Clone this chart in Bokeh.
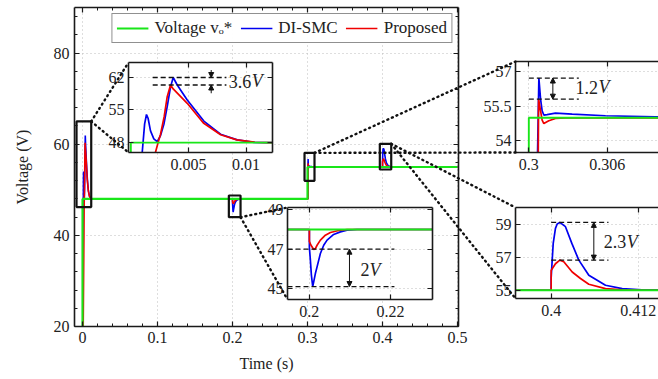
from bokeh.plotting import figure
from bokeh.models import (Range1d, FixedTicker, LinearAxis, Arrow, NormalHead,
                          Legend, LegendItem, PrintfTickFormatter, CustomJSTickFormatter)
from bokeh.embed import file_html
from bokeh.resources import INLINE
from bokeh.core.properties import value

FONT = "Liberation Serif"
C_REF = "#19e619"
C_DI = "#0000f0"
C_PR = "#f00000"

# ---------------- data ----------------
t_ref = [0.0, 0.0, 0.3, 0.3, 0.5]
v_ref = [0.0, 48.0, 48.0, 55.0, 55.0]

t_dismc = [0.0, 0.0009, 0.00099, 0.0012, 0.00136, 0.0015, 0.00171, 0.002, 0.00229,
           0.00258, 0.00287, 0.00316, 0.00345, 0.00368, 0.00403, 0.0049, 0.00634,
           0.00779, 0.00924, 0.0107, 0.012, 0.2,
           0.2, 0.20025, 0.2005, 0.20082, 0.20107, 0.20148, 0.2019, 0.20272, 0.20354,
           0.20437, 0.206, 0.20765, 0.2093, 0.21178, 0.3005,
           0.30077, 0.3009, 0.30102, 0.30115, 0.3014, 0.30204, 0.30332, 0.30587,
           0.3097, 0.315, 0.4,
           0.4, 0.40028, 0.40059, 0.40083, 0.40119, 0.40197, 0.40285, 0.40381,
           0.40519, 0.40749, 0.40979, 0.4125, 0.5]
v_dismc = [0.0, 40.0, 45.9, 52.0, 54.0, 53.2, 50.5, 48.8, 48.2,
           49.5, 51.9, 55.7, 59.9, 61.9, 60.3, 57.1, 52.6,
           49.8, 48.6, 48.06, 48.0, 48.0,
           47.1, 46.44, 45.68, 45.1, 45.34, 45.76, 46.1, 46.78, 47.2,
           47.46, 47.75, 47.88, 47.97, 48.0, 48.0,
           56.73, 55.81, 55.3, 55.12, 55.14, 55.2, 55.16, 55.09,
           55.04, 55.0, 55.0,
           55.77, 57.83, 58.74, 59.0, 59.1, 58.84, 57.83, 56.82,
           55.91, 55.3, 55.1, 55.03, 55.0]

t_prop = [0.0, 0.0019, 0.00215, 0.0024, 0.00258, 0.0029, 0.00316, 0.00345, 0.0037,
          0.0049, 0.0063, 0.0078, 0.0092, 0.0107, 0.012, 0.2,
          0.2, 0.2004, 0.20107, 0.20148, 0.2019, 0.20272, 0.20395, 0.20519, 0.20724,
          0.2093, 0.30066,
          0.30075, 0.3009, 0.30102, 0.30115, 0.30153, 0.30204, 0.30281, 0.4,
          0.4, 0.40014, 0.40059, 0.40119, 0.40174, 0.4029, 0.40404, 0.40519,
          0.40749, 0.40979, 0.4125, 0.5]
v_prop = [0.0, 40.0, 46.0, 48.3, 49.8, 53.6, 57.8, 60.3, 59.4,
          56.4, 52.2, 49.7, 48.6, 48.1, 48.0, 48.0,
          47.4, 47.2, 46.98, 47.03, 47.2, 47.46, 47.71, 47.85, 47.95,
          48.0, 48.0,
          55.8, 55.3, 54.9, 54.75, 54.87, 54.97, 55.0, 55.0,
          56.2, 56.3, 56.6, 56.82, 56.72, 56.1, 55.71, 55.36,
          55.1, 55.03, 55.0, 55.0]

legend_labels = ["Voltage vₒ*", "DI-SMC", "Proposed"]

main_xticks = [0, 0.1, 0.2, 0.3, 0.4, 0.5]
main_xminor = [round(0.02 * i, 2) for i in range(26)]
main_yticks = [20, 40, 60, 80]
main_yminor = list(range(20, 92, 4))

# zoom boxes on the main plot: (x0, x1, y0, y1)
boxes = [(-0.008, 0.0116, 46.2, 65.0),
         (0.1951, 0.2107, 43.98, 48.75),
         (0.296, 0.3093, 51.97, 58.1),
         (0.3964, 0.4116, 54.45, 60.09)]

# insets: x range, y range, x ticks, y ticks
insets = [
    dict(xr=(-0.0002, 0.0123), yr=(45.9, 65.1), xt=[0.005, 0.01], yt=[48, 55, 62]),
    dict(xr=(0.1946, 0.2304), yr=(44.44, 49.12), xt=[0.2, 0.22], yt=[45, 47, 49]),
    dict(xr=(0.29898, 0.30993), yr=(53.49, 57.45), xt=[0.3, 0.306], yt=[54, 55.5, 57]),
    dict(xr=(0.39508, 0.4148), yr=(54.5, 60.0), xt=[0.4, 0.412], yt=[55, 57, 59]),
]
# annotations: dashed levels, x extent, arrow x, label
ann = [
    dict(levels=[61.9, 60.3], xs=(0.0019, 0.0083), ax=0.00698, outside=True,
         lab=("3.6", 0.0085, 61.1)),
    dict(levels=[47.0, 45.1], xs=(0.1946, 0.221), ax=0.2099, outside=False,
         lab=("2", 0.2126, 45.95)),
    dict(levels=[56.73, 55.81], xs=(0.3, 0.30383), ax=0.30184, outside=False,
         lab=("1.2", 0.30357, 56.32)),
    dict(levels=[59.1, 56.82], xs=(0.4, 0.4079), ax=0.40588, outside=False,
         lab=("2.3", 0.40726, 57.93)),
]

# ---------------- layout constants (page px) ----------------
W, H = 658, 379
MX0, MX1, MY0, MY1 = 74, 458, 7, 326
main_x = (-0.0107, 0.5013)
main_y = (20, 90)
# frame left, top, width, height, has right border
inset_frames = [(128, 62, 144, 90, True), (287, 207, 145, 92, True),
                (515, 61, 143, 91, False), (515, 207, 143, 91, False)]


def blank():
    return CustomJSTickFormatter(code="return ''")


def style_axis(ax, ticks, minor=None, show=True, size="16px", standoff=5):
    ax.ticker = FixedTicker(ticks=ticks, minor_ticks=minor or [])
    ax.major_tick_in = 5
    ax.major_tick_out = 0
    ax.minor_tick_in = 3
    ax.minor_tick_out = 0
    ax.axis_line_color = "#1a1a1a"
    ax.axis_line_width = 1.6
    ax.major_tick_line_color = "#1a1a1a"
    ax.minor_tick_line_color = "#1a1a1a"
    ax.major_tick_line_width = 1.2
    ax.minor_tick_line_width = 1.0
    if show:
        ax.formatter = PrintfTickFormatter(format="%g")
        ax.major_label_text_font = FONT
        ax.major_label_text_font_size = size
        ax.major_label_text_color = "#222222"
        ax.major_label_standoff = standoff
    else:
        ax.formatter = blank()
        ax.major_label_text_font_size = "1px"
        ax.major_label_standoff = 0


# ---------------- main figure ----------------
main = figure(frame_width=MX1 - MX0, frame_height=MY1 - MY0,
              x_range=Range1d(*main_x), y_range=Range1d(*main_y),
              output_backend="svg", toolbar_location=None,
              min_border_left=MX0, min_border_right=W - MX1,
              min_border_top=MY0, min_border_bottom=H - MY1)
main.outline_line_color = None
main.border_fill_color = "white"
style_axis(main.xaxis[0], main_xticks, main_xminor)
style_axis(main.yaxis[0], main_yticks, main_yminor)
main.xaxis.axis_label = "Time (s)"
main.yaxis.axis_label = "Voltage (V)"
for ax in (main.xaxis[0], main.yaxis[0]):
    ax.axis_label_text_font = FONT
    ax.axis_label_text_font_size = "16px"
    ax.axis_label_text_font_style = "normal"
    ax.axis_label_text_color = "#222222"
main.xaxis.axis_label_standoff = 9
main.yaxis.axis_label_standoff = 20
top_ax = LinearAxis()
style_axis(top_ax, main_xticks, main_xminor, show=False)
main.add_layout(top_ax, "above")
right_ax = LinearAxis()
style_axis(right_ax, main_yticks, main_yminor, show=False)
main.add_layout(right_ax, "right")
main.grid.grid_line_color = "#bdbdbd"
main.grid.grid_line_dash = "1 3"
main.grid.grid_line_width = 1
main.xgrid.ticker = FixedTicker(ticks=main_xticks)
main.ygrid.ticker = FixedTicker(ticks=main_yticks)

r_di = main.line(t_dismc, v_dismc, color=C_DI, line_width=1.6)
r_pr = main.line(t_prop, v_prop, color=C_PR, line_width=1.6)
r_ref = main.line(t_ref, v_ref, color=C_REF, line_width=2.2)
main.quad(left=[b[0] for b in boxes], right=[b[1] for b in boxes],
          bottom=[b[2] for b in boxes], top=[b[3] for b in boxes],
          fill_alpha=0, line_color="#111111", line_width=2.2)

legend = Legend(items=[LegendItem(label=legend_labels[0], renderers=[r_ref]),
                       LegendItem(label=legend_labels[1], renderers=[r_di]),
                       LegendItem(label=legend_labels[2], renderers=[r_pr])],
                orientation="horizontal", location="top_right")
legend.label_text_font = FONT
legend.label_text_font_size = "17px"
legend.label_text_color = "#222222"
legend.glyph_width = 32
legend.glyph_height = 18
legend.label_standoff = 6
legend.spacing = 8
legend.padding = 4
legend.margin = 6
legend.border_line_color = "#222222"
legend.border_line_width = 1
main.add_layout(legend)
main.styles = {"position": "absolute", "left": "0px", "top": "0px"}

# ---------------- insets ----------------
roots = [main]
IL, IT, IB = 80, 6, 28
for k, (cfg, fr, an) in enumerate(zip(insets, inset_frames, ann)):
    fx, fy, fw, fh, has_right = fr
    IR = 4 if has_right else 0
    f = figure(frame_width=fw, frame_height=fh,
               x_range=Range1d(*cfg["xr"]), y_range=Range1d(*cfg["yr"]),
               output_backend="svg", toolbar_location=None,
               min_border_left=IL, min_border_right=IR,
               min_border_top=IT, min_border_bottom=IB)
    f.border_fill_alpha = 0
    f.background_fill_color = "white"
    f.outline_line_color = None
    style_axis(f.xaxis[0], cfg["xt"], standoff=6)
    style_axis(f.yaxis[0], cfg["yt"], standoff=4)
    ta = LinearAxis()
    style_axis(ta, cfg["xt"], show=False)
    f.add_layout(ta, "above")
    if has_right:
        ra = LinearAxis()
        style_axis(ra, cfg["yt"], show=False)
        f.add_layout(ra, "right")
    f.grid.grid_line_color = "#bdbdbd"
    f.grid.grid_line_dash = "1 3"
    f.xgrid.ticker = FixedTicker(ticks=cfg["xt"])
    f.ygrid.ticker = FixedTicker(ticks=cfg["yt"])

    f.line(t_dismc, v_dismc, color=C_DI, line_width=1.7)
    f.line(t_prop, v_prop, color=C_PR, line_width=1.7)
    f.line(t_ref, v_ref, color=C_REF, line_width=1.9)

    lv = an["levels"]
    f.segment(x0=[an["xs"][0]] * 2, x1=[an["xs"][1]] * 2, y0=lv, y1=lv,
              line_color="#111111", line_width=1.3, line_dash="5 3")
    head = dict(size=5, fill_color="#111111", line_color="#111111")
    if an["outside"]:
        span = lv[0] - lv[1]
        f.add_layout(Arrow(end=NormalHead(**head),
                           x_start=an["ax"], y_start=lv[0] + span, x_end=an["ax"], y_end=lv[0],
                           line_width=1, line_color="#111111"))
        f.add_layout(Arrow(end=NormalHead(**head),
                           x_start=an["ax"], y_start=lv[1] - span * 1.1, x_end=an["ax"], y_end=lv[1],
                           line_width=1, line_color="#111111"))
    else:
        f.add_layout(Arrow(start=NormalHead(**head), end=NormalHead(**head),
                           x_start=an["ax"], y_start=lv[0], x_end=an["ax"], y_end=lv[1],
                           line_width=1, line_color="#111111"))
    txt, lx, ly = an["lab"]
    f.text(x=[lx], y=[ly], text=[txt], text_font=value(FONT), text_font_size="18px",
           text_align="left", text_baseline="middle", text_color="#222222")
    f.text(x=[lx], y=[ly], text=["V"], text_font=value(FONT), text_font_size="18px",
           text_font_style="italic", text_align="left", text_baseline="middle",
           text_color="#222222", x_offset=9 * len(txt) - (4 if "." in txt else 0))
    f.styles = {"position": "absolute", "left": f"{fx - IL}px", "top": f"{fy - IT}px"}
    roots.append(f)

# ---------------- overlay with dotted connectors ----------------
def to_px(x, y):
    px = MX0 + (x - main_x[0]) / (main_x[1] - main_x[0]) * (MX1 - MX0)
    py = MY0 + (main_y[1] - y) / (main_y[1] - main_y[0]) * (MY1 - MY0)
    return px, py

corner_pts = [to_px(boxes[0][1], boxes[0][3]), to_px(boxes[1][1], boxes[1][2]),
              to_px(boxes[2][1], boxes[2][3]), to_px(boxes[3][1], boxes[3][3])]
x0s, y0s, x1s, y1s = [], [], [], []
for (cx, cy), (fx, fy, fw, fh, _) in zip(corner_pts, inset_frames):
    for ty in (fy, fy + fh):
        x0s.append(cx); y0s.append(cy); x1s.append(fx); y1s.append(ty)

over = figure(frame_width=W, frame_height=H, x_range=Range1d(0, W), y_range=Range1d(H, 0),
              min_border=0, x_axis_location=None, y_axis_location=None,
              output_backend="svg", toolbar_location=None)
over.background_fill_alpha = 0
over.border_fill_alpha = 0
over.outline_line_color = None
over.xgrid.visible = False
over.ygrid.visible = False
over.segment(x0=x0s, y0=y0s, x1=x1s, y1=y1s, line_color="#111111", line_width=2.4,
             line_dash="1 4", line_cap="round")
over.styles = {"position": "absolute", "left": "0px", "top": "0px"}
roots.append(over)

open("out.html", "w").write(file_html(roots, INLINE))
